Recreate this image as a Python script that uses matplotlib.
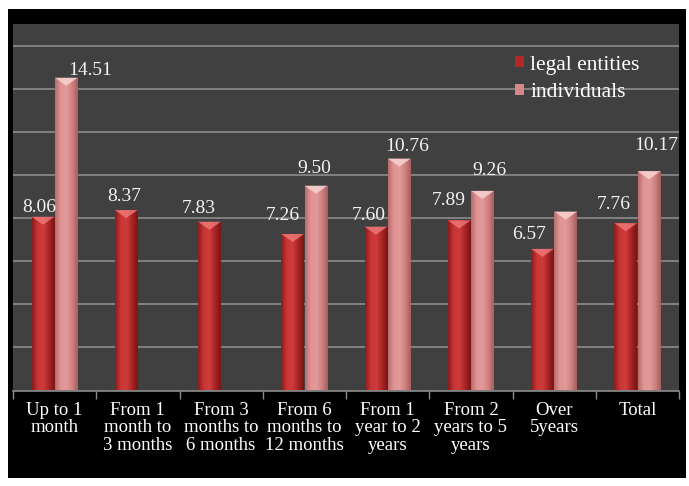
import numpy as np
import matplotlib.pyplot as plt
from matplotlib.patches import Rectangle, Polygon
from matplotlib.colors import LinearSegmentedColormap

plt.rcParams['font.family'] = ['Liberation Serif', 'DejaVu Serif']

categories = ['Up to 1\nmonth', 'From 1\nmonth to\n3 months', 'From 3\nmonths to\n6 months',
              'From 6\nmonths to\n12 months', 'From 1\nyear to 2\nyears', 'From 2\nyears to 5\nyears',
              'Over\n5years', 'Total']
legal = [8.06, 8.37, 7.83, 7.26, 7.60, 7.89, 6.57, 7.76]
individuals = [14.51, 0, 0, 9.50, 10.76, 9.26, 8.30, 10.17]
legal_labels = ['8.06', '8.37', '7.83', '7.26', '7.60', '7.89', '6.57', '7.76']
ind_labels = ['14.51', '', '', '9.50', '10.76', '9.26', '', '10.17']

# label nudges in pixels (dx from bar centre, gap above bar top), as placed in the original
legal_dx = [-3.5, -2, -11, -10, -7, -10, -13, -12]
legal_gap = [5, 9, 9, 14, 7, 15, 10, 14]
ind_dx = [24, 0, 0, -2, 8, 7, 0, 7]
ind_gap = [3, 0, 0, 13, 8, 16, 0, 21]

fig = plt.figure(figsize=(6.89, 4.86), dpi=100, facecolor='white')
fig.patches.append(Rectangle((8 / 689, 8 / 486), 678 / 689, 469 / 486, transform=fig.transFigure,
                             facecolor='black', edgecolor='none', zorder=-10))
ax = fig.add_axes([13 / 689, 95.5 / 486, 666 / 689, 366.5 / 486])
ax.set_facecolor('#404040')

x = np.arange(len(categories))
w = 0.275
off = 0.14

cm_legal = LinearSegmentedColormap.from_list('l', ['#8a1c1c', '#c93636', '#d03c3c', '#a82424', '#7a1515'])
cm_ind = LinearSegmentedColormap.from_list('i', ['#b86c6c', '#e09494', '#e49a9a', '#cf8282', '#a85e5e'])
grad = np.linspace(0, 1, 64).reshape(1, -1)
px = 17 / 366.5  # data units per pixel


def draw_bars(xs, vals, cmap, top_col):
    bars = ax.bar(xs, vals, w, color='none', edgecolor='none', zorder=3)
    for b, v in zip(bars, vals):
        if v <= 0:
            continue
        x0 = b.get_x()
        x1 = x0 + b.get_width()
        im = ax.imshow(grad, cmap=cmap, extent=[x0, x1, 0, v], aspect='auto', zorder=3)
        im.set_clip_path(b)
        xc = (x0 + x1) / 2
        ax.add_patch(Polygon([[x0, v], [x1, v], [xc, v - 8 * px]], closed=True,
                             facecolor=top_col, edgecolor='none', alpha=0.8, zorder=4))
    return bars


b1 = draw_bars(x - off, legal, cm_legal, '#ef7a7a')
b2 = draw_bars(x + off, individuals, cm_ind, '#fbd6d6')

for i in range(len(categories)):
    ax.annotate(legal_labels[i], (x[i] - off, legal[i]),
                xytext=(legal_dx[i] * 0.72, legal_gap[i] * 0.72),
                textcoords='offset points', ha='center', va='baseline', color='#f2f2f2',
                fontsize=14, zorder=5)
    if ind_labels[i]:
        ax.annotate(ind_labels[i], (x[i] + off, individuals[i]),
                    xytext=(ind_dx[i] * 0.72, ind_gap[i] * 0.72),
                    textcoords='offset points', ha='center', va='baseline', color='#f2f2f2',
                    fontsize=14, zorder=5)

ax.set_xlim(-0.5, len(categories) - 0.5)
ax.set_ylim(0, 17)
ax.set_yticks(np.arange(2, 17, 2))
ax.yaxis.grid(True, color='#8c8c8c', linewidth=1.2)
ax.set_axisbelow(True)
ax.tick_params(axis='y', length=0, labelleft=False)

ax.set_xticks(np.arange(-0.5, len(categories), 1))
ax.set_xticklabels([])
ax.set_xticks(x, minor=True)
ax.set_xticklabels(categories, minor=True, color='white', fontsize=13.5, linespacing=1.05)
ax.tick_params(axis='x', which='major', length=6, color='#8c8c8c', width=1)
ax.tick_params(axis='x', which='minor', length=0, pad=8)
for lbl in ax.get_xticklabels(minor=True):
    lbl.set_verticalalignment('top')

for s in ['top', 'right', 'left']:
    ax.spines[s].set_visible(False)
ax.spines['bottom'].set_color('#8c8c8c')
ax.spines['bottom'].set_linewidth(1.2)

h1 = Rectangle((0, 0), 1, 1, facecolor='#b02828')
h2 = Rectangle((0, 0), 1, 1, facecolor='#d58888')
leg = ax.legend([h1, h2], ['legal entities', 'individuals'], loc='upper left',
                bbox_to_anchor=(502 / 666, 0.914), frameon=False, fontsize=15.5, borderpad=0,
                borderaxespad=0, handlelength=0.4, handleheight=0.4, handletextpad=0.3,
                labelspacing=0.4, labelcolor='white')

fig.savefig('out.png', dpi=100, facecolor=fig.get_facecolor())
